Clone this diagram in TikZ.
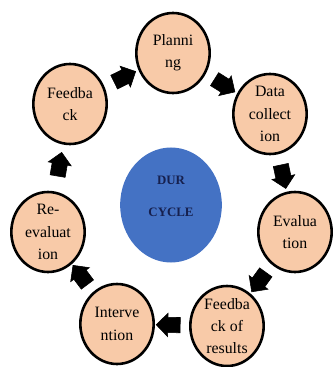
\documentclass[tikz,border=0pt]{standalone}
\usepackage{fontspec}
\setmainfont{Liberation Serif}
\usetikzlibrary{shapes.geometric,shapes.arrows}

\definecolor{peach}{RGB}{248,202,168}
\definecolor{durblue}{RGB}{68,114,196}
\definecolor{durtext}{RGB}{22,32,78}

\tikzset{
    stage/.style={ellipse, draw=black, line width=2.2pt, fill=peach,
        minimum width=2.2cm, minimum height=2.4cm, inner sep=0pt,
        align=center, font=\fontsize{13.5}{19}\selectfont},
    hub/.style={ellipse, fill=durblue, minimum width=3.05cm, minimum height=3.45cm,
        inner sep=0pt},
    hubtext/.style={align=center, text=durtext, inner sep=0pt,
        font=\fontsize{11}{27.5}\selectfont\bfseries},
    blockarrow/.style={single arrow, fill=black, draw=black, line width=0.5pt,
        minimum height=0.72cm, inner xsep=0pt, inner ysep=0.22cm,
        single arrow head extend=0.12cm, single arrow head indent=0pt,
        sloped, allow upside down}
}

\begin{document}
\begin{tikzpicture}[x=0.03cm, y=-0.03cm]

    \useasboundingbox (0,0) rectangle (332,367);

    \node [hub] (dur) at (171,205) {};
    \node [hubtext] (durlabel) at (171,196) {DUR\\CYCLE};

    \node [stage] (plan) at (173,53) {Planni\\ng};
    \node [stage] (data) at (270,114) {Data\\collect\\ion};
    \node [stage] (eval) at (295,232) {Evalua\\tion};
    \node [stage] (res) at (227,326) {Feedba\\ck of\\results};
    \node [stage] (int) at (117,324) {Interve\\ntion};
    \node [stage] (reev) at (48,232) {Re-\\evaluat\\ion};
    \node [stage] (fb) at (70,104) {Feedba\\ck};

    % block arrows between the stages
    \path (fb) -- node [blockarrow] {} (plan);
    \path (plan) -- node [blockarrow] {} (data);
    \path (data) -- node [blockarrow] {} (eval);
    \path (eval) -- node [blockarrow] {} (res);
    \path (res) -- node [blockarrow] {} (int);
    \path (int) -- node [blockarrow] {} (reev);
    \path (reev) -- node [blockarrow] {} (fb);

\end{tikzpicture}
\end{document}
